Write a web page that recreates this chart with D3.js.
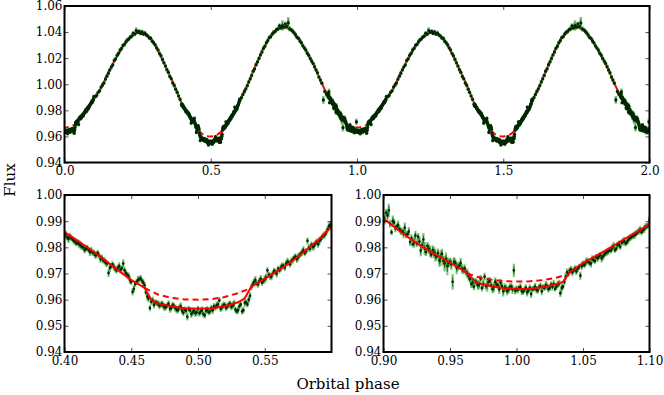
<!DOCTYPE html>
<html>
<head>
<meta charset="utf-8">
<script src="https://d3js.org/d3.v7.min.js"></script>
<style>
  body { margin: 0; background: #fff; }
</style>
</head>
<body>
<svg width="664" height="395"></svg>

<script>
  // folded light curve, [phase, flux, error]
  const fluxData = [
    // around phase 0 (= 1.0)
    [0.000,0.9640,0.0015],[0.002,0.9645,0.0012],[0.004,0.9632,0.0014],[0.006,0.9638,0.0012],[0.008,0.9628,0.0016],
    [0.010,0.9645,0.0013],[0.012,0.9640,0.0012],[0.014,0.9650,0.0015],[0.016,0.9635,0.0012],[0.018,0.9652,0.0014],
    [0.020,0.9648,0.0012],[0.022,0.9655,0.0016],[0.024,0.9640,0.0013],[0.026,0.9658,0.0012],[0.028,0.9660,0.0015],
    [0.030,0.9650,0.0012],[0.032,0.9662,0.0014],[0.034,0.9645,0.0018],[0.036,0.9668,0.0012],[0.038,0.9705,0.0014],
    [0.040,0.9712,0.0012],[0.042,0.9705,0.0015],[0.044,0.9720,0.0012],[0.046,0.9718,0.0013],[0.048,0.9692,0.0016],
    [0.050,0.9738,0.0012],[0.052,0.9742,0.0014],[0.054,0.9745,0.0012],[0.056,0.9738,0.0015],[0.058,0.9752,0.0012],
    [0.060,0.9762,0.0013],[0.062,0.9765,0.0012],[0.064,0.9758,0.0016],[0.066,0.9772,0.0012],[0.068,0.9782,0.0014],
    [0.070,0.9790,0.0012],[0.072,0.9798,0.0015],[0.074,0.9790,0.0012],[0.076,0.9808,0.0013],[0.078,0.9802,0.0012],
    [0.080,0.9822,0.0014],[0.082,0.9815,0.0012],[0.084,0.9828,0.0015],[0.086,0.9838,0.0012],[0.088,0.9845,0.0013],
    [0.090,0.9852,0.0012],[0.092,0.9862,0.0014],[0.094,0.9858,0.0012],[0.096,0.9870,0.0015],[0.098,0.9880,0.0012],
    [0.001,0.9638,0.0013],[0.003,0.9648,0.0015],[0.005,0.9630,0.0012],[0.007,0.9645,0.0014],[0.009,0.9635,0.0012],
    [0.011,0.9622,0.0016],[0.013,0.9642,0.0012],[0.015,0.9638,0.0014],[0.017,0.9648,0.0012],[0.019,0.9632,0.0015],
    [0.021,0.9645,0.0012],[0.023,0.9652,0.0014],[0.025,0.9645,0.0012],[0.027,0.9650,0.0016],[0.029,0.9642,0.0012],
    [0.031,0.9658,0.0014],[0.033,0.9625,0.0015],[0.035,0.9650,0.0012],[0.037,0.9688,0.0014],[0.039,0.9698,0.0012],
    [0.041,0.9715,0.0015],[0.043,0.9712,0.0012],[0.045,0.9708,0.0014],[0.047,0.9725,0.0012],[0.049,0.9728,0.0015],
    [0.051,0.9732,0.0012],[0.053,0.9748,0.0014],[0.055,0.9740,0.0012],[0.057,0.9755,0.0015],[0.059,0.9748,0.0012],
    [0.061,0.9758,0.0014],[0.063,0.9770,0.0012],[0.065,0.9765,0.0015],[0.067,0.9778,0.0012],[0.069,0.9785,0.0014],
    [0.071,0.9788,0.0012],[0.073,0.9805,0.0015],[0.075,0.9795,0.0012],[0.077,0.9812,0.0014],[0.079,0.9818,0.0012],
    [0.081,0.9825,0.0015],[0.083,0.9820,0.0012],[0.085,0.9835,0.0014],[0.087,0.9842,0.0012],[0.089,0.9848,0.0015],
    [0.091,0.9858,0.0012],[0.093,0.9868,0.0014],[0.095,0.9865,0.0012],[0.097,0.9878,0.0015],[0.099,0.9885,0.0012],
    // rising to first maximum and down again
    [0.100,0.9905,0.0015],[0.105,0.9905,0.0015],[0.110,0.9915,0.0018],[0.115,0.9938,0.0015],[0.120,0.9950,0.0016],
    [0.125,0.9978,0.0015],[0.130,0.9995,0.0018],[0.135,1.0010,0.0015],[0.140,1.0040,0.0016],[0.145,1.0062,0.0015],
    [0.150,1.0085,0.0018],[0.155,1.0110,0.0015],[0.160,1.0132,0.0016],[0.165,1.0148,0.0015],[0.170,1.0182,0.0018],
    [0.175,1.0195,0.0015],[0.180,1.0222,0.0016],[0.185,1.0238,0.0015],[0.190,1.0262,0.0018],[0.195,1.0275,0.0015],
    [0.200,1.0298,0.0016],[0.205,1.0305,0.0015],[0.210,1.0325,0.0018],[0.215,1.0340,0.0015],[0.220,1.0348,0.0016],
    [0.225,1.0362,0.0015],[0.230,1.0370,0.0018],[0.235,1.0392,0.0015],[0.240,1.0385,0.0016],[0.245,1.0412,0.0025],
    [0.250,1.0398,0.0015],[0.255,1.0405,0.0018],[0.260,1.0390,0.0015],[0.265,1.0402,0.0016],[0.270,1.0385,0.0015],
    [0.275,1.0392,0.0018],[0.280,1.0378,0.0015],[0.285,1.0370,0.0016],[0.290,1.0355,0.0015],[0.295,1.0352,0.0018],
    [0.300,1.0330,0.0015],[0.305,1.0318,0.0016],[0.310,1.0302,0.0015],[0.315,1.0280,0.0018],[0.320,1.0262,0.0015],
    [0.325,1.0235,0.0016],[0.330,1.0218,0.0015],[0.335,1.0190,0.0018],[0.340,1.0165,0.0015],[0.345,1.0140,0.0016],
    [0.350,1.0112,0.0015],[0.355,1.0092,0.0018],[0.360,1.0060,0.0015],[0.365,1.0042,0.0016],[0.370,1.0010,0.0015],
    [0.375,0.9992,0.0018],[0.380,0.9962,0.0015],[0.385,0.9938,0.0016],[0.390,0.9910,0.0015],[0.395,0.9885,0.0018],
    // around phase 0.5
    [0.400,0.9845,0.0015],[0.402,0.9838,0.0012],[0.404,0.9842,0.0014],[0.406,0.9830,0.0012],[0.408,0.9822,0.0013],
    [0.410,0.9818,0.0012],[0.412,0.9808,0.0015],[0.414,0.9800,0.0012],[0.416,0.9795,0.0013],[0.418,0.9790,0.0012],
    [0.420,0.9788,0.0014],[0.422,0.9779,0.0012],[0.424,0.9772,0.0015],[0.426,0.9768,0.0012],[0.428,0.9760,0.0013],
    [0.430,0.9748,0.0014],[0.432,0.9738,0.0012],[0.434,0.9722,0.0016],[0.436,0.9735,0.0012],[0.438,0.9718,0.0014],
    [0.440,0.9722,0.0012],[0.442,0.9715,0.0013],[0.444,0.9738,0.0016],[0.446,0.9702,0.0012],[0.448,0.9690,0.0014],
    [0.450,0.9668,0.0012],[0.452,0.9642,0.0015],[0.454,0.9668,0.0012],[0.456,0.9678,0.0013],[0.458,0.9672,0.0012],
    [0.460,0.9655,0.0014],[0.462,0.9612,0.0015],[0.464,0.9568,0.0012],[0.466,0.9598,0.0014],[0.468,0.9590,0.0012],
    [0.470,0.9585,0.0013],[0.472,0.9580,0.0012],[0.474,0.9577,0.0015],[0.476,0.9572,0.0012],[0.478,0.9584,0.0014],
    [0.480,0.9568,0.0012],[0.482,0.9575,0.0013],[0.484,0.9562,0.0015],[0.486,0.9570,0.0012],[0.488,0.9558,0.0014],
    [0.490,0.9562,0.0012],[0.492,0.9535,0.0015],[0.494,0.9560,0.0012],[0.496,0.9552,0.0014],[0.498,0.9548,0.0013],
    [0.500,0.9565,0.0012],[0.502,0.9555,0.0015],[0.504,0.9545,0.0012],[0.506,0.9558,0.0014],[0.508,0.9552,0.0012],
    [0.510,0.9568,0.0013],[0.512,0.9575,0.0012],[0.514,0.9578,0.0015],[0.516,0.9598,0.0012],[0.518,0.9572,0.0014],
    [0.520,0.9580,0.0012],[0.522,0.9575,0.0013],[0.524,0.9585,0.0012],[0.526,0.9578,0.0015],[0.528,0.9562,0.0012],
    [0.530,0.9560,0.0014],[0.532,0.9582,0.0012],[0.534,0.9560,0.0013],[0.536,0.9590,0.0012],[0.538,0.9600,0.0015],
    [0.540,0.9648,0.0012],[0.542,0.9668,0.0014],[0.544,0.9662,0.0012],[0.546,0.9672,0.0013],[0.548,0.9665,0.0012],
    [0.550,0.9678,0.0015],[0.552,0.9712,0.0012],[0.554,0.9690,0.0014],[0.556,0.9700,0.0012],[0.558,0.9705,0.0013],
    [0.560,0.9718,0.0012],[0.562,0.9722,0.0015],[0.564,0.9730,0.0012],[0.566,0.9738,0.0014],[0.568,0.9742,0.0012],
    [0.570,0.9748,0.0013],[0.572,0.9760,0.0012],[0.574,0.9755,0.0015],[0.576,0.9770,0.0012],[0.578,0.9782,0.0014],
    [0.580,0.9778,0.0012],[0.582,0.9825,0.0013],[0.584,0.9795,0.0012],[0.586,0.9802,0.0015],[0.588,0.9815,0.0012],
    [0.590,0.9812,0.0014],[0.592,0.9830,0.0012],[0.594,0.9845,0.0013],[0.596,0.9855,0.0012],[0.598,0.9880,0.0015],
    [0.401,0.9850,0.0013],[0.403,0.9832,0.0015],[0.405,0.9836,0.0012],[0.407,0.9825,0.0014],[0.409,0.9815,0.0012],
    [0.411,0.9812,0.0015],[0.413,0.9802,0.0012],[0.415,0.9790,0.0014],[0.417,0.9798,0.0012],[0.419,0.9782,0.0015],
    [0.421,0.9780,0.0012],[0.423,0.9770,0.0014],[0.425,0.9778,0.0012],[0.427,0.9755,0.0015],[0.429,0.9750,0.0012],
    [0.431,0.9740,0.0014],[0.433,0.9702,0.0015],[0.435,0.9728,0.0012],[0.437,0.9725,0.0014],[0.439,0.9712,0.0012],
    [0.441,0.9728,0.0015],[0.443,0.9720,0.0012],[0.445,0.9712,0.0014],[0.447,0.9695,0.0012],[0.449,0.9675,0.0015],
    [0.451,0.9630,0.0014],[0.453,0.9660,0.0012],[0.455,0.9675,0.0015],[0.457,0.9682,0.0012],[0.459,0.9665,0.0014],
    [0.461,0.9628,0.0012],[0.463,0.9605,0.0015],[0.465,0.9592,0.0012],[0.467,0.9580,0.0014],[0.469,0.9588,0.0012],
    [0.471,0.9578,0.0015],[0.473,0.9585,0.0012],[0.475,0.9570,0.0014],[0.477,0.9578,0.0012],[0.479,0.9565,0.0015],
    [0.481,0.9580,0.0012],[0.483,0.9568,0.0014],[0.485,0.9560,0.0012],[0.487,0.9575,0.0015],[0.489,0.9550,0.0012],
    [0.491,0.9558,0.0014],[0.493,0.9565,0.0012],[0.495,0.9545,0.0015],[0.497,0.9558,0.0012],[0.499,0.9552,0.0014],
    [0.501,0.9548,0.0012],[0.503,0.9560,0.0015],[0.505,0.9540,0.0012],[0.507,0.9562,0.0014],[0.509,0.9555,0.0012],
    [0.511,0.9560,0.0015],[0.513,0.9570,0.0012],[0.515,0.9582,0.0014],[0.517,0.9565,0.0012],[0.519,0.9578,0.0015],
    [0.521,0.9568,0.0012],[0.523,0.9580,0.0014],[0.525,0.9572,0.0012],[0.527,0.9585,0.0015],[0.529,0.9555,0.0012],
    [0.531,0.9575,0.0014],[0.533,0.9555,0.0012],[0.535,0.9588,0.0015],[0.537,0.9582,0.0012],[0.539,0.9615,0.0014],
    [0.541,0.9660,0.0012],[0.543,0.9675,0.0015],[0.545,0.9658,0.0012],[0.547,0.9680,0.0014],[0.549,0.9672,0.0012],
    [0.551,0.9685,0.0015],[0.553,0.9695,0.0012],[0.555,0.9688,0.0014],[0.557,0.9710,0.0012],[0.559,0.9700,0.0015],
    [0.561,0.9712,0.0012],[0.563,0.9728,0.0014],[0.565,0.9722,0.0012],[0.567,0.9745,0.0015],[0.569,0.9735,0.0012],
    [0.571,0.9752,0.0014],[0.573,0.9765,0.0012],[0.575,0.9762,0.0015],[0.577,0.9775,0.0012],[0.579,0.9790,0.0014],
    [0.581,0.9785,0.0012],[0.583,0.9798,0.0015],[0.585,0.9810,0.0012],[0.587,0.9805,0.0014],[0.589,0.9822,0.0012],
    [0.591,0.9825,0.0015],[0.593,0.9840,0.0012],[0.595,0.9848,0.0014],[0.597,0.9868,0.0012],[0.599,0.9885,0.0015],
    // second maximum
    [0.600,0.9875,0.0015],[0.605,0.9898,0.0016],[0.610,0.9922,0.0015],[0.615,0.9945,0.0018],[0.620,0.9965,0.0015],
    [0.625,0.9990,0.0016],[0.630,1.0018,0.0015],[0.635,1.0042,0.0018],[0.640,1.0068,0.0015],[0.645,1.0100,0.0016],
    [0.650,1.0118,0.0015],[0.655,1.0150,0.0018],[0.660,1.0172,0.0015],[0.665,1.0198,0.0016],[0.670,1.0225,0.0015],
    [0.675,1.0248,0.0018],[0.680,1.0275,0.0015],[0.685,1.0292,0.0016],[0.690,1.0318,0.0015],[0.695,1.0335,0.0018],
    [0.700,1.0358,0.0015],[0.705,1.0365,0.0016],[0.710,1.0385,0.0015],[0.715,1.0398,0.0018],[0.720,1.0405,0.0015],
    [0.725,1.0420,0.0016],[0.730,1.0425,0.0018],[0.735,1.0448,0.0020],[0.740,1.0432,0.0016],[0.745,1.0450,0.0040],
    [0.750,1.0438,0.0018],[0.755,1.0462,0.0020],[0.760,1.0442,0.0016],[0.765,1.0470,0.0045],[0.770,1.0425,0.0020],
    [0.775,1.0418,0.0016],[0.780,1.0408,0.0018],[0.785,1.0395,0.0016],[0.790,1.0378,0.0018],[0.795,1.0360,0.0016],
    [0.800,1.0352,0.0015],[0.805,1.0332,0.0018],[0.810,1.0318,0.0015],[0.815,1.0295,0.0016],[0.820,1.0278,0.0015],
    [0.825,1.0262,0.0018],[0.830,1.0238,0.0015],[0.835,1.0222,0.0016],[0.840,1.0198,0.0015],[0.845,1.0178,0.0018],
    [0.850,1.0160,0.0015],[0.855,1.0135,0.0016],[0.860,1.0110,0.0015],[0.865,1.0088,0.0018],[0.870,1.0055,0.0015],
    [0.875,1.0032,0.0016],[0.880,1.0008,0.0015],[0.885,0.9880,0.0030],[0.890,0.9945,0.0016],[0.895,0.9925,0.0018],
    // approaching phase 1.0
    [0.900,0.9915,0.0020],[0.902,0.9932,0.0015],[0.904,0.9942,0.0025],[0.906,0.9858,0.0012],[0.908,0.9895,0.0015],
    [0.910,0.9880,0.0012],[0.912,0.9870,0.0014],[0.914,0.9860,0.0012],[0.916,0.9875,0.0020],[0.918,0.9850,0.0013],
    [0.920,0.9820,0.0015],[0.922,0.9812,0.0012],[0.924,0.9845,0.0018],[0.926,0.9840,0.0015],[0.928,0.9788,0.0022],
    [0.930,0.9830,0.0025],[0.932,0.9782,0.0015],[0.934,0.9795,0.0020],[0.936,0.9772,0.0014],[0.938,0.9780,0.0022],
    [0.940,0.9765,0.0015],[0.942,0.9750,0.0025],[0.944,0.9775,0.0020],[0.946,0.9738,0.0030],[0.948,0.9728,0.0035],
    [0.950,0.9745,0.0015],[0.952,0.9668,0.0030],[0.954,0.9740,0.0018],[0.956,0.9725,0.0015],[0.958,0.9740,0.0020],
    [0.960,0.9712,0.0015],[0.962,0.9705,0.0014],[0.964,0.9690,0.0018],[0.966,0.9660,0.0015],[0.968,0.9650,0.0014],
    [0.970,0.9665,0.0015],[0.972,0.9658,0.0018],[0.974,0.9645,0.0014],[0.976,0.9688,0.0015],[0.978,0.9655,0.0025],
    [0.980,0.9672,0.0014],[0.982,0.9640,0.0015],[0.984,0.9668,0.0018],[0.986,0.9655,0.0014],[0.988,0.9665,0.0015],
    [0.990,0.9632,0.0020],[0.992,0.9645,0.0014],[0.994,0.9638,0.0015],[0.996,0.9650,0.0014],[0.998,0.9712,0.0025],
    [0.901,0.9905,0.0018],[0.903,0.9922,0.0020],[0.905,0.9890,0.0015],[0.907,0.9900,0.0022],[0.909,0.9872,0.0014],
    [0.911,0.9885,0.0018],[0.913,0.9862,0.0015],[0.915,0.9855,0.0020],[0.917,0.9848,0.0014],[0.919,0.9860,0.0018],
    [0.921,0.9835,0.0015],[0.923,0.9820,0.0022],[0.925,0.9815,0.0015],[0.927,0.9822,0.0020],[0.929,0.9808,0.0018],
    [0.931,0.9795,0.0025],[0.933,0.9805,0.0015],[0.935,0.9785,0.0022],[0.937,0.9790,0.0018],[0.939,0.9770,0.0025],
    [0.941,0.9778,0.0018],[0.943,0.9760,0.0030],[0.945,0.9748,0.0020],[0.947,0.9755,0.0025],[0.949,0.9740,0.0018],
    [0.951,0.9735,0.0022],[0.953,0.9745,0.0018],[0.955,0.9722,0.0025],[0.957,0.9730,0.0015],[0.959,0.9718,0.0018],
    [0.961,0.9720,0.0015],[0.963,0.9700,0.0018],[0.965,0.9678,0.0015],[0.967,0.9665,0.0020],[0.969,0.9670,0.0014],
    [0.971,0.9655,0.0018],[0.973,0.9680,0.0015],[0.975,0.9660,0.0020],[0.977,0.9652,0.0014],[0.979,0.9668,0.0018],
    [0.981,0.9655,0.0015],[0.983,0.9648,0.0020],[0.985,0.9658,0.0014],[0.987,0.9640,0.0018],[0.989,0.9652,0.0015],
    [0.991,0.9645,0.0018],[0.993,0.9632,0.0015],[0.995,0.9648,0.0014],[0.997,0.9640,0.0018],[0.999,0.9635,0.0015]
  ];

  // model with eclipses (solid red)
  const modelPhase = [0.000,0.010,0.020,0.030,0.035,0.040,0.050,0.060,0.070,0.080,0.090,0.100,
    0.125,0.150,0.175,0.200,0.225,0.250,0.275,0.300,0.325,0.350,0.375,
    0.400,0.410,0.420,0.430,0.440,0.450,0.455,0.460,0.465,0.470,0.480,0.490,0.500,
    0.510,0.520,0.530,0.535,0.540,0.545,0.550,0.560,0.570,0.580,0.590,0.600,
    0.625,0.650,0.675,0.700,0.725,0.750,0.775,0.800,0.825,0.850,0.875,
    0.900,0.910,0.920,0.930,0.940,0.950,0.960,0.963,0.970,0.980,0.990,1.000];
  const modelFlux = [0.9641,0.9642,0.9648,0.9660,0.9668,0.9705,0.9740,0.9768,0.9797,0.9828,0.9858,0.9888,
    0.9970,1.0090,1.0198,1.0292,1.0360,1.0395,1.0390,1.0335,1.0235,1.0115,0.9995,
    0.9858,0.9825,0.9790,0.9752,0.9713,0.9675,0.9660,0.9645,0.9600,0.9585,0.9575,0.9567,0.9565,
    0.9567,0.9575,0.9590,0.9605,0.9650,0.9665,0.9680,0.9712,0.9745,0.9785,0.9828,0.9878,
    0.9990,1.0125,1.0250,1.0355,1.0415,1.0440,1.0415,1.0350,1.0262,1.0158,1.0030,
    0.9910,0.9870,0.9833,0.9800,0.9770,0.9742,0.9712,0.9700,0.9665,0.9652,0.9645,0.9641];

  // model without eclipses (dashed red), only where it differs
  const dashPhaseHalf = [0.460,0.470,0.480,0.490,0.500,0.510,0.520,0.530,0.540];
  const dashFluxHalf = [0.9645,0.9620,0.9607,0.9601,0.9600,0.9602,0.9610,0.9625,0.9645];
  const dashPhaseOne = [0.963,0.970,0.980,0.990,1.000,1.010,1.020,1.030,1.037];
  const dashFluxOne = [0.9700,0.9688,0.9677,0.9671,0.9669,0.9670,0.9675,0.9684,0.9695];

  const topXTicks = [0, 0.5, 1.0, 1.5, 2.0];
  const topYTicks = [0.94, 0.96, 0.98, 1.00, 1.02, 1.04, 1.06];
  const leftXTicks = [0.40, 0.45, 0.50, 0.55];
  const rightXTicks = [0.90, 0.95, 1.00, 1.05, 1.10];
  const lowYTicks = [0.94, 0.95, 0.96, 0.97, 0.98, 0.99, 1.00];

  const panels = [
    { left: 64.5, right: 649.5, top: 6, bottom: 162.5, xDom: [0, 2], yDom: [0.94, 1.06],
      xTicks: topXTicks, xFmt: ".1f", yTicks: topYTicks, linesOnTop: false, r: 1.6, bar: 2.6 },
    { left: 64.5, right: 331.5, top: 195, bottom: 352, xDom: [0.4, 0.6], yDom: [0.94, 1.00],
      xTicks: leftXTicks, xFmt: ".2f", yTicks: lowYTicks, linesOnTop: true, r: 1.3, bar: 2.2 },
    { left: 383.5, right: 649.5, top: 195, bottom: 352, xDom: [0.9, 1.1], yDom: [0.94, 1.00],
      xTicks: rightXTicks, xFmt: ".2f", yTicks: lowYTicks, linesOnTop: true, r: 1.3, bar: 2.2 }
  ];

  const svg = d3.select("svg");
  const font = "'DejaVu Serif', serif";
  const offsets = [-1, 0, 1];

  const styleAxis = (g) => {
    g.select(".domain").remove();
    g.selectAll(".tick line").attr("stroke", "#000").attr("stroke-width", 0.7);
    g.attr("font-family", font).attr("font-size", 12);
    g.selectAll(".tick text").attr("fill", "#000");
  };

  panels.forEach((p, i) => {
    const x = d3.scaleLinear().domain(p.xDom).range([p.left, p.right]);
    const y = d3.scaleLinear().domain(p.yDom).range([p.bottom, p.top]);

    svg.append("clipPath").attr("id", "clip" + i)
      .append("rect")
      .attr("x", p.left).attr("y", p.top)
      .attr("width", p.right - p.left).attr("height", p.bottom - p.top);

    const plot = svg.append("g").attr("clip-path", `url(#clip${i})`);
    const line = d3.line().x(d => x(d[0])).y(d => y(d[1]));

    const drawLines = () => {
      offsets.forEach(o => {
        plot.append("path")
          .datum(modelPhase.map((ph, k) => [ph + o, modelFlux[k]]))
          .attr("d", line)
          .attr("fill", "none").attr("stroke", "#ff0000").attr("stroke-width", 2);
      });
      offsets.forEach(o => {
        [[dashPhaseHalf, dashFluxHalf], [dashPhaseOne, dashFluxOne]].forEach(([ph, fl]) => {
          plot.append("path")
            .datum(ph.map((v, k) => [v + o, fl[k]]))
            .attr("d", line)
            .attr("fill", "none").attr("stroke", "#ff0000").attr("stroke-width", 2)
            .attr("stroke-dasharray", "6,4");
        });
      });
    };

    const drawData = () => {
      const pts = [];
      offsets.forEach(o => {
        fluxData.forEach(d => {
          const ph = d[0] + o;
          if (ph >= p.xDom[0] - 0.01 && ph <= p.xDom[1] + 0.01) pts.push([ph, d[1], d[2]]);
        });
      });
      // light outer error bar, darker inner part, then the point
      plot.append("g").selectAll("line").data(pts).join("line")
        .attr("x1", d => x(d[0])).attr("x2", d => x(d[0]))
        .attr("y1", d => y(d[1] - d[2])).attr("y2", d => y(d[1] + d[2]))
        .attr("stroke", "#3aa63a").attr("stroke-opacity", 0.65).attr("stroke-width", p.bar);
      plot.append("g").selectAll("line").data(pts).join("line")
        .attr("x1", d => x(d[0])).attr("x2", d => x(d[0]))
        .attr("y1", d => y(d[1] - d[2] * 0.6)).attr("y2", d => y(d[1] + d[2] * 0.6))
        .attr("stroke", "#0b700b").attr("stroke-width", 1);
      plot.append("g").selectAll("circle").data(pts).join("circle")
        .attr("cx", d => x(d[0])).attr("cy", d => y(d[1]))
        .attr("r", p.r).attr("fill", "#052605");
    };

    if (p.linesOnTop) { drawData(); drawLines(); } else { drawLines(); drawData(); }

    // axes, ticks pointing inward
    svg.append("g").attr("transform", `translate(0,${p.bottom})`)
      .call(d3.axisBottom(x).tickValues(p.xTicks).tickFormat(d3.format(p.xFmt))
        .tickSizeInner(-4).tickSizeOuter(0).tickPadding(4))
      .call(styleAxis);
    svg.append("g").attr("transform", `translate(0,${p.top})`)
      .call(d3.axisTop(x).tickValues(p.xTicks).tickFormat("")
        .tickSizeInner(-4).tickSizeOuter(0))
      .call(styleAxis);
    svg.append("g").attr("transform", `translate(${p.left},0)`)
      .call(d3.axisLeft(y).tickValues(p.yTicks).tickFormat(d3.format(".2f"))
        .tickSizeInner(-4).tickSizeOuter(0).tickPadding(2))
      .call(styleAxis);
    svg.append("g").attr("transform", `translate(${p.right},0)`)
      .call(d3.axisRight(y).tickValues(p.yTicks).tickFormat("")
        .tickSizeInner(-4).tickSizeOuter(0))
      .call(styleAxis);

    svg.append("rect")
      .attr("x", p.left).attr("y", p.top)
      .attr("width", p.right - p.left).attr("height", p.bottom - p.top)
      .attr("fill", "none").attr("stroke", "#000").attr("stroke-width", 2);
  });

  svg.append("text")
    .attr("transform", "translate(15,180) rotate(-90)")
    .attr("text-anchor", "middle")
    .attr("font-family", font).attr("font-size", 15)
    .text("Flux");

  svg.append("text")
    .attr("x", 348).attr("y", 389)
    .attr("text-anchor", "middle")
    .attr("font-family", font).attr("font-size", 15)
    .text("Orbital phase");
</script>
</body>
</html>
